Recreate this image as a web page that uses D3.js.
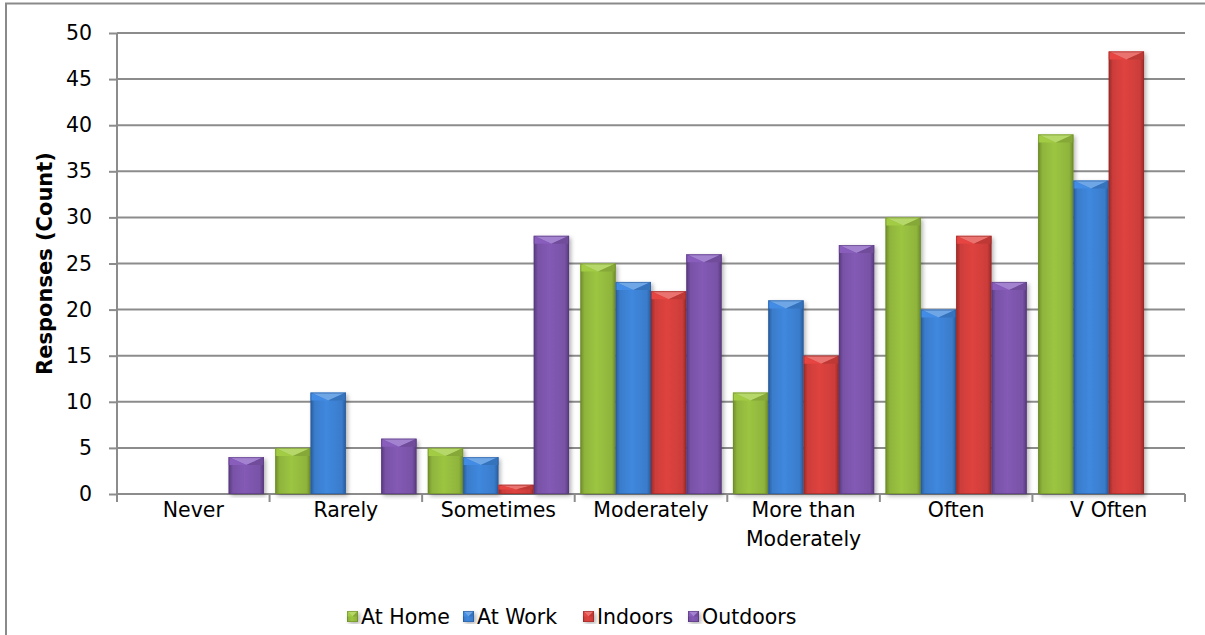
<!DOCTYPE html>
<html>
<head>
<meta charset="utf-8">
<script src="https://cdn.jsdelivr.net/npm/d3@7"></script>
<style>
  html, body { margin: 0; padding: 0; background: #fff; }
  svg { display: block; }
  text { font-family: "DejaVu Sans", sans-serif; fill: #000; }
</style>
</head>
<body>
<svg id="chart" width="1205" height="635"></svg>
<script>
// Frequency categories along the x axis
const categories = ["Never", "Rarely", "Sometimes", "Moderately", "More than Moderately", "Often", "V Often"];
// Series (one per setting)
const seriesNames = ["At Home", "At Work", "Indoors", "Outdoors"];
const atHome   = [0, 5, 5, 25, 11, 30, 39];
const atWork   = [0, 11, 4, 23, 21, 20, 34];
const indoors  = [0, 0, 1, 22, 15, 28, 48];
const outdoors = [4, 6, 28, 26, 27, 23, 0];
const yTicks = [0, 5, 10, 15, 20, 25, 30, 35, 40, 45, 50];

const seriesValues = [atHome, atWork, indoors, outdoors];
const palette = [
  { base: "#8fb43c", light: "#b6d86a", dark: "#6e8c2a" },
  { base: "#3a7ccb", light: "#6fa6e6", dark: "#2a5c9c" },
  { base: "#cc3d3a", light: "#ea7370", dark: "#9a2a28" },
  { base: "#7852a6", light: "#a383d0", dark: "#57397c" }
];

const svg = d3.select("#chart");
const margin = { left: 117, right: 20, top: 33, bottom: 141 };
const W = 1205, H = 635;
const plotW = W - margin.left - margin.right;
const plotH = H - margin.top - margin.bottom;
const fontSize = "20.5px";

// outer frame
svg.append("path")
  .attr("d", `M6,${H + 5} L6,3.5 L${W + 5},3.5`)
  .attr("fill", "none").attr("stroke", "#8a8a8a").attr("stroke-width", 2);

const defs = svg.append("defs");
palette.forEach((p, i) => {
  const g = defs.append("linearGradient").attr("id", "bar" + i)
    .attr("x1", "0").attr("x2", "1").attr("y1", "0").attr("y2", "0");
  g.append("stop").attr("offset", "0%").attr("stop-color", p.dark);
  g.append("stop").attr("offset", "12%").attr("stop-color", p.base);
  g.append("stop").attr("offset", "45%").attr("stop-color", d3.color(p.base).brighter(0.25));
  g.append("stop").attr("offset", "88%").attr("stop-color", p.base);
  g.append("stop").attr("offset", "100%").attr("stop-color", p.dark);
});
const sh = defs.append("filter").attr("id", "shadow")
  .attr("x", "-20%").attr("y", "-5%").attr("width", "160%").attr("height", "115%");
sh.append("feDropShadow").attr("dx", 2).attr("dy", 2).attr("stdDeviation", 2)
  .attr("flood-color", "#000").attr("flood-opacity", 0.3);

const x0 = d3.scaleBand().domain(categories).range([margin.left, margin.left + plotW])
  .paddingInner(0).paddingOuter(0);
const x1 = d3.scaleBand().domain(seriesNames).range([0, x0.bandwidth()])
  .paddingInner(0).paddingOuter(0.16);
const y = d3.scaleLinear().domain([0, 50]).range([margin.top + plotH, margin.top]);

// gridlines
svg.append("g").selectAll("line").data(yTicks.filter(d => d > 0)).join("line")
  .attr("x1", margin.left).attr("x2", margin.left + plotW)
  .attr("y1", d => y(d)).attr("y2", d => y(d))
  .attr("stroke", "#8c8c8c").attr("stroke-width", 2);

// y axis
const yAxis = svg.append("g").attr("transform", `translate(${margin.left},0)`)
  .call(d3.axisLeft(y).tickValues(yTicks).tickSize(8).tickPadding(17));
yAxis.select(".domain").attr("d", `M0,${y(50)}V${y(0) + 8}`);
yAxis.selectAll("path, line").attr("stroke", "#8c8c8c").attr("stroke-width", 2);
yAxis.selectAll("text").style("font-size", fontSize).style("font-family", "'DejaVu Sans', sans-serif");

// x axis
const xAxis = svg.append("g").attr("transform", `translate(0,${y(0)})`);
xAxis.append("line").attr("x1", margin.left).attr("x2", margin.left + plotW)
  .attr("stroke", "#8c8c8c").attr("stroke-width", 2);
const boundaries = categories.map(c => x0(c)).concat([margin.left + plotW]);
xAxis.selectAll("line.tk").data(boundaries).join("line").attr("class", "tk")
  .attr("x1", d => d).attr("x2", d => d).attr("y1", 0).attr("y2", 8)
  .attr("stroke", "#8c8c8c").attr("stroke-width", 2);
const catLabels = xAxis.selectAll("text.cat").data(categories).join("text").attr("class", "cat")
  .attr("x", d => x0(d) + x0.bandwidth() / 2)
  .attr("text-anchor", "middle").style("font-size", fontSize);
catLabels.each(function (d) {
  const t = d3.select(this);
  const lines = d === "More than Moderately" ? ["More than", "Moderately"] : [d];
  lines.forEach((ln, i) => t.append("tspan").attr("x", x0(d) + x0.bandwidth() / 2)
    .attr("y", 23 + i * 29).text(ln));
});

// y title
svg.append("text")
  .attr("transform", `translate(52,${margin.top + plotH / 2}) rotate(-90)`)
  .attr("text-anchor", "middle").style("font-size", "21px").style("font-weight", "bold")
  .text("Responses (Count)");

// bevelled bar shape
function drawBar(g, bx, by, bw, bh, i) {
  const p = palette[i];
  const bev = Math.min(8, bh / 2, bw / 2);
  g.append("rect").attr("x", bx).attr("y", by).attr("width", bw).attr("height", bh)
    .attr("fill", `url(#bar${i})`).attr("filter", "url(#shadow)");
  g.append("path").attr("d", `M${bx},${by}L${bx + bw},${by}L${bx + bw / 2},${by + bev}Z`)
    .attr("fill", p.light);
  g.append("path").attr("d", `M${bx},${by}L${bx + bw / 2},${by + bev}L${bx + bev},${by + bev}L${bx},${by + bev}Z`)
    .attr("fill", d3.color(p.base).brighter(0.35));
  g.append("path").attr("d", `M${bx + bw},${by}L${bx + bw / 2},${by + bev}L${bx + bw},${by + bev}Z`)
    .attr("fill", d3.color(p.base).darker(0.2));
  g.append("rect").attr("x", bx + 0.5).attr("y", by + 0.5).attr("width", bw - 1).attr("height", bh - 1)
    .attr("fill", "none").attr("stroke", p.dark).attr("stroke-width", 1).attr("stroke-opacity", 0.6);
}

const barsG = svg.append("g");
categories.forEach((c, ci) => {
  seriesNames.forEach((s, si) => {
    const v = seriesValues[si][ci];
    if (v <= 0) return;
    const bx = x0(c) + x1(s);
    drawBar(barsG, bx, y(v), x1.bandwidth(), y(0) - y(v), si);
  });
});

// legend
const legendX = [347, 463, 583, 688];
const legend = svg.append("g");
seriesNames.forEach((s, i) => {
  const g = legend.append("g");
  drawBar(g, legendX[i], 611, 11, 11, i);
  g.append("text").attr("x", legendX[i] + 14).attr("y", 624)
    .style("font-size", fontSize).text(s);
});
</script>
</body>
</html>
